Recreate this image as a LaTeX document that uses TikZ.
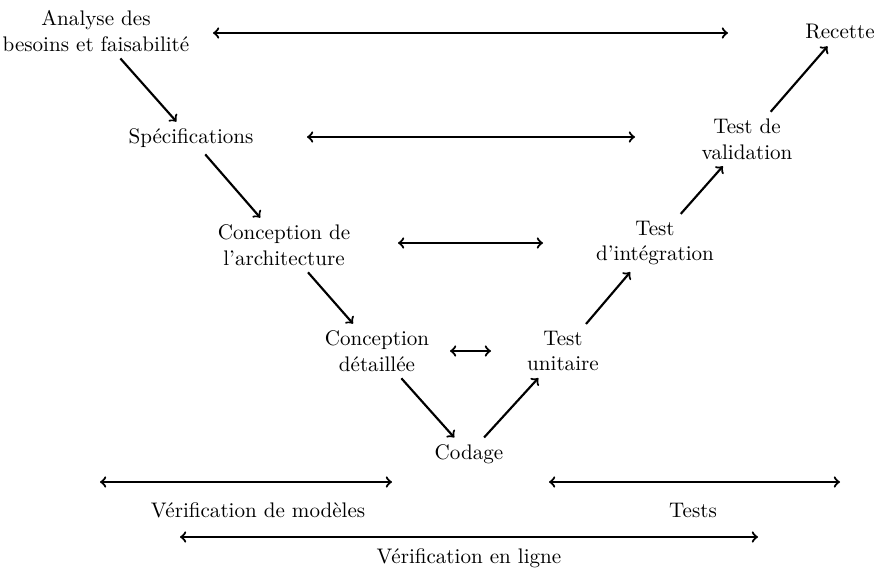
\documentclass[tikz,border=0pt]{standalone}
\usepackage{fontspec}
\begin{document}
\begin{tikzpicture}[x=0.018cm, y=-0.018cm,
  every node/.style={font=\fontsize{10.8pt}{13.2pt}\selectfont},
  phase/.style={align=center},
  flow/.style={->, line width=1.1pt},
  span/.style={<->, line width=1.1pt}]
\useasboundingbox (0,0) rectangle (876,569);

% V-cycle phases
\node[phase] (ana) at (96,31)  {Analyse des\\besoins et faisabilité};
\node[phase] (spe) at (191,138) {Spécifications};
\node[phase] (arc) at (284,245) {Conception de\\l'architecture};
\node[phase] (det) at (377,351) {Conception\\détaillée};
\node[phase] (cod) at (469,454) {Codage};
\node[phase] (uni) at (563,351) {Test\\unitaire};
\node[phase] (int) at (655,243) {Test\\d'intégration};
\node[phase] (val) at (747,139) {Test de\\validation};
\node[phase] (rec) at (840,32)  {Recette};

% descending and ascending branches
\draw[flow] (ana) -- (spe);
\draw[flow] (spe) -- (arc);
\draw[flow] (arc) -- (det);
\draw[flow] (det) -- (cod);
\draw[flow] (cod) -- (uni);
\draw[flow] (uni) -- (int);
\draw[flow] (int) -- (val);
\draw[flow] (val) -- (rec);

% correspondence between levels
\coordinate (l1a) at (213,33);  \coordinate (l1b) at (728,33);
\coordinate (l2a) at (307,137); \coordinate (l2b) at (635,137);
\coordinate (l3a) at (398,243); \coordinate (l3b) at (543,243);
\coordinate (l4a) at (450,351); \coordinate (l4b) at (491,351);
\draw[span] (l1a) -- (l1b);
\draw[span] (l2a) -- (l2b);
\draw[span] (l3a) -- (l3b);
\draw[span] (l4a) -- (l4b);

% verification ranges
\coordinate (vma) at (100,482); \coordinate (vmb) at (392,482);
\coordinate (tsa) at (549,482); \coordinate (tsb) at (840,482);
\coordinate (vla) at (180,537); \coordinate (vlb) at (758,537);
\draw[span] (vma) -- (vmb);
\draw[span] (tsa) -- (tsb);
\draw[span] (vla) -- (vlb);
\node (vm) at (258,510) {Vérification de modèles};
\node (ts) at (693,510) {Tests};
\node (vl) at (469,558) {Vérification en ligne};
\end{tikzpicture}
\end{document}
